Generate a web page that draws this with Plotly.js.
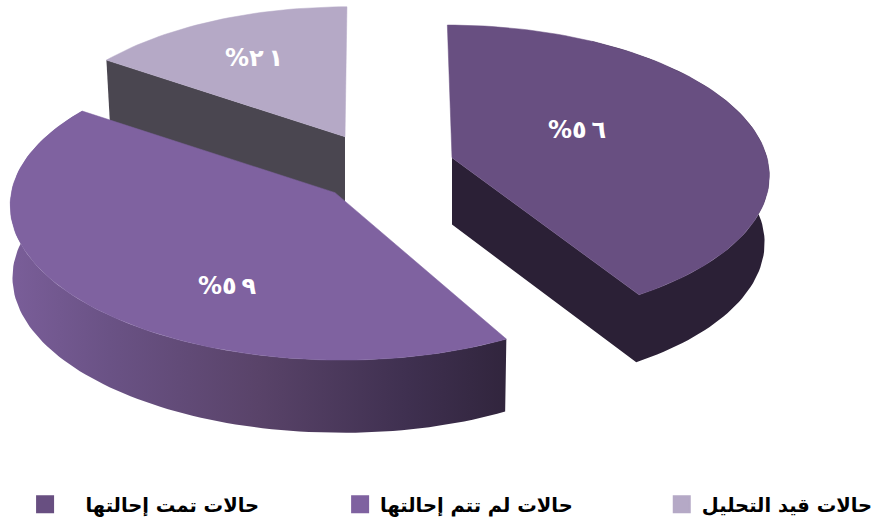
<!DOCTYPE html>
<html><head><meta charset="utf-8">
<script src="https://cdn.plot.ly/plotly-3.0.1.min.js"></script>
<style>html,body{margin:0;padding:0;background:#fff}#c{width:880px;height:524px}</style>
</head><body><div id="c"></div>
<script>
// --- data ---
const categories = ['\u00a0\u00a0\u00a0حالات تمت إحالتها', 'حالات لم تتم إحالتها', 'حالات قيد التحليل'];
const values = [56, 59, 21];
const valueLabels = ['%٥\u202f٦', '%٥\u202f٩', '%٢\u202f١'];
// --- styling ---
const faceColors = ['#684f81', '#7f62a0', '#b5a9c6'];
const wallColors = ['#2b2036', null, '#4a4650'];
const leftWallScale = [[0,'#7a5e99'],[0.2,'#6a5285'],[0.5,'#594369'],[0.8,'#3f3050'],[1,'#31253d']];
// --- 3D projection of an exploded pie ---
const P = 0.106;
const geom = [
  {ax:452, ay:158, R:315, Q:147, D:67, tilt:0,    shear:-0.035, shrink:0.985, da0:0, da1:0, wallFrom:30, showEdge:'end',   showArc:true,  lab:[577,132]},
  {ax:335, ay:193, R:323, Q:150, D:72, tilt:0.01, shear:0,      shrink:0.993, da0:3, da1:-0.4, wallFrom:0, showEdge:null,    showArc:true,  lab:[227,289]},
  {ax:345, ay:137, R:308, Q:144, D:65, tilt:0,    shear:0.015,  shrink:0.985, da0:0, da1:0, wallFrom:0, showEdge:'start', showArc:false, lab:[254,60]}
];
const legendX = [0.0285, 0.3865, 0.7520];
const total = values.reduce((a,b)=>a+b,0);
function proj(g, deg, r, z){
  const t = deg*Math.PI/180, u = r*Math.sin(t), v = r*Math.cos(t), den = 1+P*v;
  let X = g.R*u/den + g.shear*g.Q*v/den, Y = -g.Q*v/den + g.tilt*g.R*u/den;
  const s = 1/den;
  if(z){ X *= g.shrink; Y += g.D*(0.9+0.1*s); }
  return [g.ax+X, g.ay+Y];
}
function arc(g, a0, a1, z){
  const pts=[], n=Math.ceil(Math.abs(a1-a0)/1.5);
  for(let i=0;i<=n;i++) pts.push(proj(g, a0+(a1-a0)*i/n, 1, z));
  return pts;
}
function poly(listOfPolys){
  const x=[],y=[];
  listOfPolys.forEach((p,i)=>{ if(i){x.push(null);y.push(null);} p.forEach(q=>{x.push(q[0]);y.push(q[1]);}); x.push(p[0][0]); y.push(p[0][1]); });
  return {x,y};
}
let cum=0;
const spans = values.map((v,i)=>{const a=cum/total*360; cum+=v; return [a+geom[i].da0,cum/total*360+geom[i].da1];});
const order=[2,1,0];
const traces=[];
order.forEach(i=>{
  const g=geom[i],[a0,a1]=spans[i],polys=[];
  const apexT=proj(g,0,0,false), apexB=proj(g,0,0,true);
  if(g.showEdge){
    const ang=g.showEdge==='end'?a1:a0;
    polys.push([apexT,proj(g,ang,1,false),proj(g,ang,1,true),apexB]);
  }
  if(g.showArc){ const s=a0+g.wallFrom; polys.push(arc(g,s,a1,false).concat(arc(g,a1,s,true))); }
  const w=poly(polys);
  const wall={x:w.x,y:w.y,mode:'lines',line:{width:0},fill:'toself',hoverinfo:'skip',showlegend:false};
  if(wallColors[i]) wall.fillcolor=wallColors[i];
  else wall.fillgradient={type:'horizontal',colorscale:leftWallScale};
  traces.push(wall);
  const f=poly([[apexT].concat(arc(g,a0,a1,false))]);
  traces.push({x:f.x,y:f.y,mode:'lines',line:{width:0.5,color:faceColors[i]},fill:'toself',fillcolor:faceColors[i],hoverinfo:'skip',showlegend:false});
});
traces.push({x:geom.map(g=>g.lab[0]),y:geom.map(g=>g.lab[1]),text:valueLabels,mode:'text',
  textfont:{family:'"DejaVu Sans"',size:24,color:'#fff',weight:'bold'},hoverinfo:'skip',showlegend:false});
const legendKeys=['legend','legend2','legend3'];
[0,1,2].forEach(i=>traces.push({x:[null],y:[null],mode:'markers',name:categories[i],legend:i?('legend'+(i+1)):'legend',
  marker:{symbol:'square',size:16,color:faceColors[i],line:{width:2,color:faceColors[i]}},hoverinfo:'skip'}));
const layout={
  width:880,height:524,margin:{l:0,r:0,t:0,b:0},paper_bgcolor:'#fff',plot_bgcolor:'#fff',
  xaxis:{range:[0,880],visible:false,fixedrange:true},
  yaxis:{range:[524,0],visible:false,fixedrange:true},
  showlegend:true
};
legendKeys.forEach((k,i)=>{layout[k]={orientation:'v',x:legendX[i],y:-0.002,xanchor:'left',yanchor:'bottom',itemwidth:30,
  font:{family:'"DejaVu Sans"',size:19.5,color:'#000',weight:'bold'},bgcolor:'rgba(0,0,0,0)'};});
Plotly.newPlot('c',traces,layout,{displayModeBar:false,staticPlot:true});
</script></body></html>
